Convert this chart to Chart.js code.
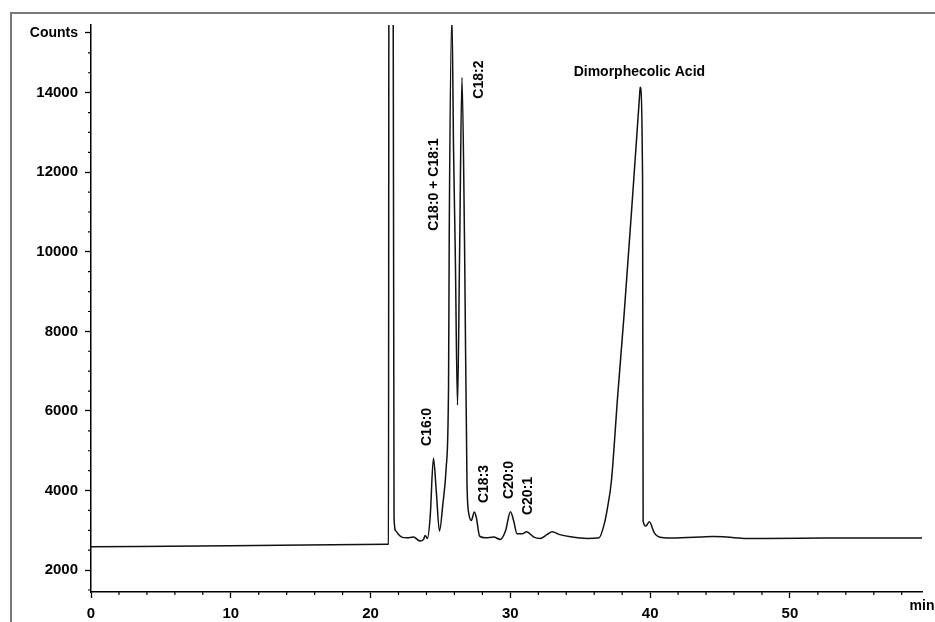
<!DOCTYPE html>
<html>
<head>
<meta charset="utf-8">
<script src="https://cdn.jsdelivr.net/npm/chart.js@4"></script>
<style>
  html, body { margin: 0; padding: 0; background: #fff; }
  canvas { display: block; }
</style>
</head>
<body>
<canvas id="chromChart" width="935" height="622"></canvas>
<script>
// retention time (min) and detector counts
const times = [0, 10, 21.2, 21.28, 21.32, 21.6, 21.68, 21.82, 21.99, 22.23, 22.59, 23.07, 23.55, 23.79, 23.9, 24.07,
    24.26, 24.5, 24.7, 24.93, 25.17, 25.41, 25.58, 25.63, 25.82, 25.94, 26.06, 26.22, 26.37, 26.54, 26.73, 26.9,
    27.04, 27.21, 27.42, 27.57, 27.8, 28.21, 28.81, 29.29, 29.65, 30.01, 30.24, 30.48, 30.84, 31.16, 31.68, 32.16,
    32.64, 33.0, 33.48, 34.31, 35.51, 36.35, 36.71, 36.95, 37.23, 37.67, 38.14, 38.74, 39.25, 39.29, 39.46, 39.5,
    39.7, 39.94, 40.3, 40.65, 41.5, 43.6, 44.5, 45.5, 46.9, 50.8, 54.4, 59.45];
const counts = [2585, 2615, 2650, 2655, 20000, 20000, 3300, 2980, 2900, 2830, 2813, 2830, 2730, 2772, 2872, 2797,
    3316, 4810, 3987, 2981, 3652, 4574, 6672, 10528, 15900, 12500, 10000, 6150, 10000, 14380, 10000, 4156,
    3401, 3250, 3459, 3316, 2855, 2813, 2830, 2772, 2981, 3467, 3233, 2914, 2914, 2964, 2830, 2797,
    2898, 2964, 2898, 2838, 2797, 2813, 3150, 3567, 4239, 6335, 8433, 11366, 13950, 14134, 11786, 3233,
    3107, 3215, 2938, 2830, 2805, 2830, 2847, 2830, 2797, 2800, 2810, 2810];

// tick labels
const xTicks = [0, 10, 20, 30, 40, 50];
const yTicks = [2000, 4000, 6000, 8000, 10000, 12000, 14000];
const xUnit = "min";
const yUnit = "Counts";

// peak names, anchored at (time, counts) where the vertical text starts
const peakLabels = ["C16:0", "C18:0 + C18:1", "C18:2", "C18:3", "C20:0", "C20:1"];
const peakLabelTimes = [24.08, 24.55, 27.78, 28.14, 29.94, 31.26];
const peakLabelCounts = [5119, 10528, 13849, 3686, 3786, 3384];
const acidLabel = "Dimorphecolic Acid";
const acidLabelTime = 39.23;
const acidLabelCount = 14503;

const X_MAX = 59.45;
const Y_MIN = 1450;
const Y_MAX = 15700;
const UNIT_Y = 15500;
const FONT = "Liberation Sans, Arial, sans-serif";

const decorPlugin = {
    id: "decor",
    beforeDraw(chart) {
        const ctx = chart.ctx;
        ctx.save();
        ctx.fillStyle = "#fff";
        ctx.fillRect(0, 0, chart.width, chart.height);
        // scanned page frame
        ctx.strokeStyle = "#7a7a7a";
        ctx.lineWidth = 2;
        ctx.beginPath();
        ctx.moveTo(11, chart.height);
        ctx.lineTo(11, 13);
        ctx.lineTo(chart.width, 13);
        ctx.stroke();
        ctx.restore();
    },
    afterDraw(chart) {
        const ctx = chart.ctx;
        const xs = chart.scales.x;
        const ys = chart.scales.y;
        ctx.save();
        // minor ticks
        ctx.strokeStyle = "#000";
        ctx.lineWidth = 1.2;
        ctx.beginPath();
        for (let v = 1500; v <= 15000; v += 500) {
            if (v % 2000 === 0) continue;
            const py = ys.getPixelForValue(v);
            ctx.moveTo(xs.left - 3, py);
            ctx.lineTo(xs.left, py);
        }
        for (let t = 2; t < X_MAX; t += 2) {
            if (t % 10 === 0) continue;
            const px = xs.getPixelForValue(t);
            ctx.moveTo(px, ys.bottom);
            ctx.lineTo(px, ys.bottom + 3);
        }
        ctx.stroke();

        ctx.fillStyle = "#000";
        ctx.font = "bold 14px " + FONT;
        ctx.textBaseline = "middle";
        // unit at the end of the time axis
        ctx.textAlign = "center";
        ctx.fillText(xUnit, xs.right, ys.bottom + 14);

        // peak labels
        peakLabels.forEach((txt, i) => {
            const px = xs.getPixelForValue(peakLabelTimes[i]);
            const py = ys.getPixelForValue(peakLabelCounts[i]);
            ctx.save();
            ctx.translate(px, py);
            ctx.rotate(-Math.PI / 2);
            ctx.textAlign = "left";
            ctx.fillText(txt, 0, 0);
            ctx.restore();
        });
        ctx.textAlign = "center";
        ctx.fillText(acidLabel, xs.getPixelForValue(acidLabelTime), ys.getPixelForValue(acidLabelCount));
        ctx.restore();
    }
};

const ctx = document.getElementById("chromChart").getContext("2d");
new Chart(ctx, {
    type: "line",
    data: {
        datasets: [{
            data: times.map((t, i) => ({ x: t, y: counts[i] })),
            borderColor: "#111",
            borderWidth: 1.5,
            pointRadius: 0,
            fill: false,
            cubicInterpolationMode: "monotone"
        }]
    },
    options: {
        responsive: false,
        animation: false,
        devicePixelRatio: 1,
        layout: { padding: { left: 0, top: 25, right: 13, bottom: 0 } },
        plugins: {
            legend: { display: false },
            tooltip: { enabled: false }
        },
        scales: {
            x: {
                type: "linear",
                min: 0,
                max: X_MAX,
                afterBuildTicks: scale => {
                    scale.ticks = xTicks.map(v => ({ value: v }));
                },
                afterFit: scale => { scale.height = 30; },
                ticks: {
                    color: "#000",
                    padding: 7,
                    maxRotation: 0,
                    autoSkip: false,
                    font: { family: FONT, size: 15, weight: "bold" }
                },
                grid: {
                    drawOnChartArea: false,
                    tickLength: 6,
                    tickWidth: 1.3,
                    tickColor: "#000"
                },
                border: { color: "#000", width: 1.5 }
            },
            y: {
                type: "linear",
                min: Y_MIN,
                max: Y_MAX,
                afterBuildTicks: scale => {
                    scale.ticks = yTicks.map(v => ({ value: v })).concat([{ value: UNIT_Y }]);
                },
                afterFit: scale => { scale.width = 91; },
                ticks: {
                    color: "#000",
                    padding: 7,
                    autoSkip: false,
                    font: c => ({ family: FONT, size: c.tick && c.tick.value === UNIT_Y ? 14 : 15, weight: "bold" }),
                    callback: v => (v === UNIT_Y ? yUnit : v)
                },
                grid: {
                    drawOnChartArea: false,
                    tickLength: 6,
                    tickWidth: 1.3,
                    tickColor: "#000"
                },
                border: { color: "#000", width: 1.5 }
            }
        }
    },
    plugins: [decorPlugin]
});
</script>
</body>
</html>
